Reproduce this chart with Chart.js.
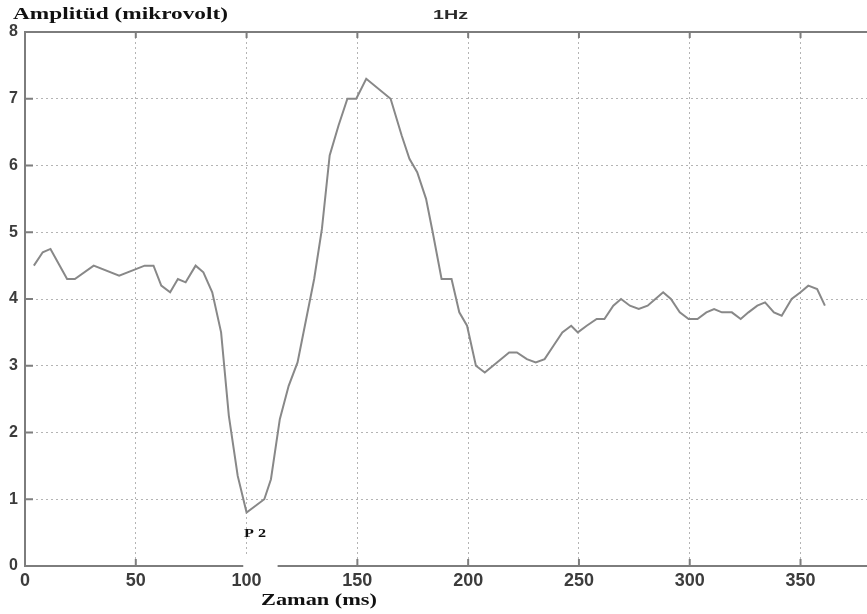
<!DOCTYPE html>
<html>
<head>
<meta charset="utf-8">
<script src="https://cdn.jsdelivr.net/npm/chart.js@4/dist/chart.umd.min.js"></script>
<style>
  html, body { margin: 0; padding: 0; background: #fff; }
  canvas { display: block; }
</style>
</head>
<body>
<canvas id="erpChart" width="867" height="614"></canvas>
<script>
// time (ms) and amplitude (microvolt)
const timeMs = [4, 8, 11.5, 19, 22.5, 31, 42.5, 54, 58, 61.5, 65.5, 69, 72.5, 77, 80.5, 84.5, 88.5, 92, 96, 100,
  108, 111, 115, 119, 123, 130.5, 134, 137.5, 141.5, 145.5, 149.5, 154, 165, 170, 173.5, 177, 181, 184, 188, 192.5,
  196, 199.5, 203.5, 207.5, 213, 218.5, 222, 226.5, 230.5, 234.5, 238.5, 242.5, 246.5, 249.5, 253.5, 258, 261.5, 265.5, 269, 273,
  277, 281, 284.5, 288, 291.5, 295.5, 299.5, 303.5, 307.5, 311, 314.5, 319, 323, 326.5, 330.5, 334, 338, 341.5, 346, 350,
  353.5, 357.5, 361];
const amplitude = [4.5, 4.7, 4.75, 4.3, 4.3, 4.5, 4.35, 4.5, 4.5, 4.2, 4.1, 4.3, 4.25, 4.5, 4.4, 4.1, 3.5, 2.25, 1.35, 0.8,
  1.0, 1.3, 2.2, 2.7, 3.05, 4.3, 5.05, 6.15, 6.6, 7.0, 7.0, 7.3, 7.0, 6.45, 6.1, 5.9, 5.5, 5.0, 4.3, 4.3,
  3.8, 3.6, 3.0, 2.9, 3.05, 3.2, 3.2, 3.1, 3.05, 3.1, 3.3, 3.5, 3.6, 3.5, 3.6, 3.7, 3.7, 3.9, 4.0, 3.9,
  3.85, 3.9, 4.0, 4.1, 4.0, 3.8, 3.7, 3.7, 3.8, 3.85, 3.8, 3.8, 3.7, 3.8, 3.9, 3.95, 3.8, 3.75, 4.0, 4.1,
  4.2, 4.15, 3.9];
const xTicks = [0, 50, 100, 150, 200, 250, 300, 350];
const yTicks = [0, 1, 2, 3, 4, 5, 6, 7, 8];

const points = timeMs.map((t, i) => ({ x: t, y: amplitude[i] }));

const axisGray = '#7d7d7d';
const gridGray = '#b4b4b4';
const tickFont = '"Liberation Sans", Arial, sans-serif';

function drawStretched(ctx, text, x, y, targetW) {
  const w = ctx.measureText(text).width;
  ctx.save();
  ctx.translate(x, y);
  ctx.scale(targetW / w, 1);
  ctx.fillText(text, 0, 0);
  ctx.restore();
}

// matlab-ish frame: top border, inward ticks, axis break, labels
const matlabFrame = {
  id: 'matlabFrame',
  afterDraw(chart) {
    const { ctx, chartArea: area, scales: { x, y } } = chart;
    ctx.save();
    ctx.strokeStyle = axisGray;
    ctx.lineWidth = 2;
    ctx.beginPath();
    ctx.moveTo(area.left, area.top);
    ctx.lineTo(area.right, area.top);
    ctx.stroke();

    ctx.beginPath();
    xTicks.forEach(v => {
      const px = x.getPixelForValue(v);
      ctx.moveTo(px, area.bottom); ctx.lineTo(px, area.bottom - 7);
      ctx.moveTo(px, area.top); ctx.lineTo(px, area.top + 6);
    });
    yTicks.forEach(v => {
      const py = y.getPixelForValue(v);
      ctx.moveTo(area.left, py); ctx.lineTo(area.left + 8, py);
    });
    ctx.stroke();

    ctx.fillStyle = '#fff';
    const g0 = x.getPixelForValue(98.5), g1 = x.getPixelForValue(114);
    ctx.fillRect(g0, area.bottom - 9, g1 - g0, 12);

    ctx.fillStyle = '#111';
    ctx.textBaseline = 'alphabetic';
    ctx.font = 'bold 16px "Liberation Serif", serif';
    drawStretched(ctx, 'Amplitüd (mikrovolt)', 13, 19, 215);
    drawStretched(ctx, 'Zaman (ms)', 261, 605, 116);
    ctx.font = 'bold 12px "Liberation Serif", serif';
    drawStretched(ctx, 'P 2', 244, 537, 22);
    ctx.fillStyle = '#2a2a2a';
    ctx.font = 'bold 13px ' + tickFont;
    drawStretched(ctx, '1Hz', 433, 19, 35);
    ctx.restore();
  }
};

new Chart(document.getElementById('erpChart'), {
  type: 'line',
  data: {
    datasets: [{
      label: '1Hz',
      data: points,
      borderColor: '#888888',
      borderWidth: 2,
      pointRadius: 0,
      tension: 0,
      fill: false
    }]
  },
  options: {
    responsive: false,
    animation: false,
    layout: { padding: { top: 32, right: 0, left: 0, bottom: 0 } },
    plugins: { legend: { display: false }, tooltip: { enabled: false } },
    scales: {
      x: {
        type: 'linear',
        min: 0,
        max: 380,
        afterBuildTicks: (scale) => { scale.ticks = xTicks.map(v => ({ value: v })); },
        afterFit: (scale) => { scale.height = 48; },
        ticks: {
          color: '#3c3c3c',
          padding: 4,
          font: { family: tickFont, size: 18, weight: 'bold' }
        },
        grid: { color: gridGray, lineWidth: 1, drawTicks: false },
        border: { color: axisGray, width: 2, dash: [2, 3] }
      },
      y: {
        min: 0,
        max: 8,
        afterBuildTicks: (scale) => { scale.ticks = yTicks.map(v => ({ value: v })); },
        afterFit: (scale) => { scale.width = 25; },
        ticks: {
          color: '#3c3c3c',
          padding: 7,
          font: { family: tickFont, size: 16, weight: 'bold' }
        },
        grid: { color: gridGray, lineWidth: 1, drawTicks: false },
        border: { color: axisGray, width: 2, dash: [2, 3] }
      }
    }
  },
  plugins: [matlabFrame]
});
</script>
</body>
</html>
